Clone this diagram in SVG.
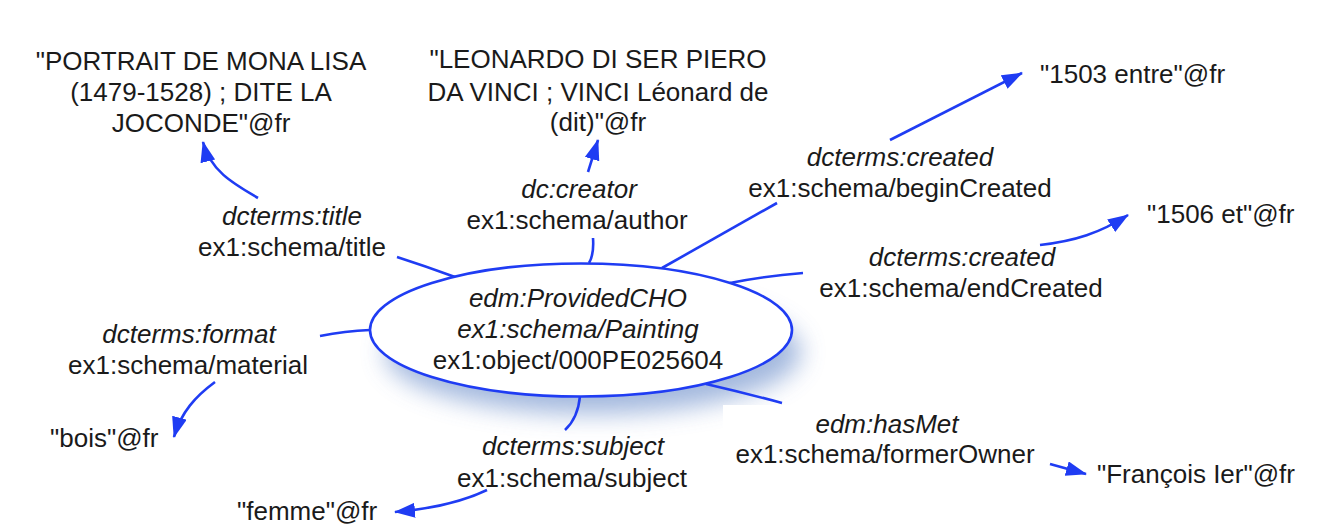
<svg xmlns="http://www.w3.org/2000/svg" width="1320" height="530" viewBox="0 0 1320 530">
<style>
text{font-family:"Liberation Sans",Arial,Helvetica,sans-serif;font-size:26px;fill:#1a1a1a;text-anchor:middle}
.it{font-style:italic}
.lt{text-anchor:start}
.edge{fill:none;stroke:#1f3cf3;stroke-width:2.6}
.arr{marker-end:url(#ah)}
</style>
<defs>
<marker id="ah" markerUnits="userSpaceOnUse" markerWidth="24" markerHeight="18" refX="20" refY="7.5" orient="auto">
<path d="M0,0 L21,7.5 L0,15 Z" fill="#1f3cf3"/>
</marker>
<filter id="blur" x="-30%" y="-60%" width="160%" height="220%">
<feGaussianBlur stdDeviation="12"/>
</filter>
</defs>
<rect width="1320" height="530" fill="#ffffff"/>

<g id="shadow">
<ellipse cx="593" cy="352" rx="208" ry="62" fill="#93acd8" opacity="0.85" filter="url(#blur)"/>
<rect x="723" y="405" width="320" height="70" fill="#ffffff"/>
</g>

<g id="connectors">
<path class="edge" d="M397,257 Q425,266 455,277"/>
<path class="edge arr" d="M258,198 C232,183 210,170 203,142"/>
<path class="edge" d="M593,238 C594,252 592,258 589,263"/>
<path class="edge arr" d="M588,172 L598,140"/>
<path class="edge" d="M777,203 L662,268"/>
<path class="edge arr" d="M890,140 L1022,73"/>
<path class="edge" d="M803,273 Q765,276 730,283"/>
<path class="edge arr" d="M1040,245 C1075,241 1100,233 1128,215"/>
<path class="edge" d="M320,336 Q345,331 370,330"/>
<path class="edge arr" d="M215,382 C196,396 181,412 174,437"/>
<path class="edge" d="M580,396 Q578,418 565,430"/>
<path class="edge arr" d="M487,490 C460,503 430,509 395,512"/>
<path class="edge" d="M706,384 Q745,393 782,403"/>
<path class="edge arr" d="M1050,464 L1086,474"/>
</g>

<g id="cho">
<ellipse cx="581" cy="330" rx="211" ry="66.5" fill="#ffffff" stroke="#1f3cf3" stroke-width="2.6"/>
<text class="it" x="578" y="307">edm:ProvidedCHO</text>
<text class="it" x="578" y="338">ex1:schema/Painting</text>
<text x="578" y="369">ex1:object/000PE025604</text>
</g>

<g id="title-literal">
<text x="201" y="70">"PORTRAIT DE MONA LISA</text>
<text x="201" y="101">(1479-1528) ; DITE LA</text>
<text x="201" y="132">JOCONDE"@fr</text>
</g>
<g id="title-label">
<text class="it" x="292" y="225">dcterms:title</text>
<text x="292" y="256">ex1:schema/title</text>
</g>

<g id="creator-literal">
<text x="598" y="68">"LEONARDO DI SER PIERO</text>
<text x="598" y="101">DA VINCI ; VINCI Léonard de</text>
<text x="598" y="131">(dit)"@fr</text>
</g>
<g id="creator-label">
<text class="it" x="579" y="198">dc:creator</text>
<text x="577" y="229">ex1:schema/author</text>
</g>

<g id="begin-literal">
<text class="lt" x="1040" y="83">"1503 entre"@fr</text>
</g>
<g id="begin-label">
<text class="it" x="900" y="166">dcterms:created</text>
<text x="900" y="197">ex1:schema/beginCreated</text>
</g>

<g id="end-literal">
<text class="lt" x="1147" y="223">"1506 et"@fr</text>
</g>
<g id="end-label">
<text class="it" x="962" y="266">dcterms:created</text>
<text x="961" y="297">ex1:schema/endCreated</text>
</g>

<g id="format-label">
<text class="it" x="189" y="343">dcterms:format</text>
<text x="188" y="374">ex1:schema/material</text>
</g>
<g id="format-literal">
<text class="lt" x="50" y="447">"bois"@fr</text>
</g>

<g id="subject-label">
<text class="it" x="573" y="455">dcterms:subject</text>
<text x="572" y="487">ex1:schema/subject</text>
</g>
<g id="subject-literal">
<text class="lt" x="237" y="520">"femme"@fr</text>
</g>

<g id="hasmet-label">
<text class="it" x="887" y="433">edm:hasMet</text>
<text x="885" y="463">ex1:schema/formerOwner</text>
</g>
<g id="hasmet-literal">
<text class="lt" x="1097" y="483">"François Ier"@fr</text>
</g>
</svg>
